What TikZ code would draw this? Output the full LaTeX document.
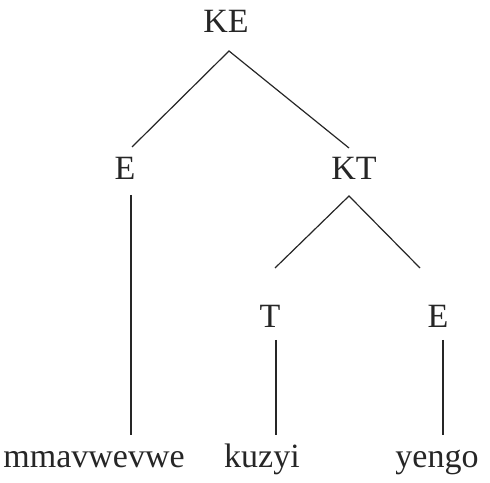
\documentclass[tikz,border=0pt]{standalone}
\usepackage{fontspec}
\setmainfont{Liberation Serif}
\begin{document}
\begin{tikzpicture}[x=1pt,y=1pt,
  lbl/.style={anchor=base,inner sep=0pt,font=\fontsize{34}{40}\selectfont,text=black!85},
  edge/.style={line width=1.2pt,draw=black!85}]
\useasboundingbox (0,0) rectangle (490,482);
% labels
\node[lbl] (KE) at (226,449) {KE};
\node[lbl] (E1) at (125,302) {E};
\node[lbl] (KT) at (354,302) {KT};
\node[lbl] (T) at (270,154) {T};
\node[lbl] (E2) at (438,154) {E};
\node[lbl] (w1) at (94,15) {mmavwevwe};
\node[lbl] (w2) at (262,15) {kuzyi};
\node[lbl] (w3) at (437,15) {yengo};
% connector ends
\coordinate (KEb) at (229,431);
\coordinate (E1t) at (132,335);
\coordinate (KTt) at (349,334);
\coordinate (KTb) at (349,286);
\coordinate (Tt) at (275,214);
\coordinate (E2t) at (420,214);
\coordinate (E1b) at (131,287);
\coordinate (w1t) at (131,47);
\coordinate (Tb) at (276,142);
\coordinate (w2t) at (276,47);
\coordinate (E2b) at (443,142);
\coordinate (w3t) at (443,47);
% connectors
\draw[edge] (E1t) -- (KEb) -- (KTt);
\draw[edge] (Tt) -- (KTb) -- (E2t);
\draw[edge] (E1b) -- (w1t);
\draw[edge] (Tb) -- (w2t);
\draw[edge] (E2b) -- (w3t);
\end{tikzpicture}
\end{document}
